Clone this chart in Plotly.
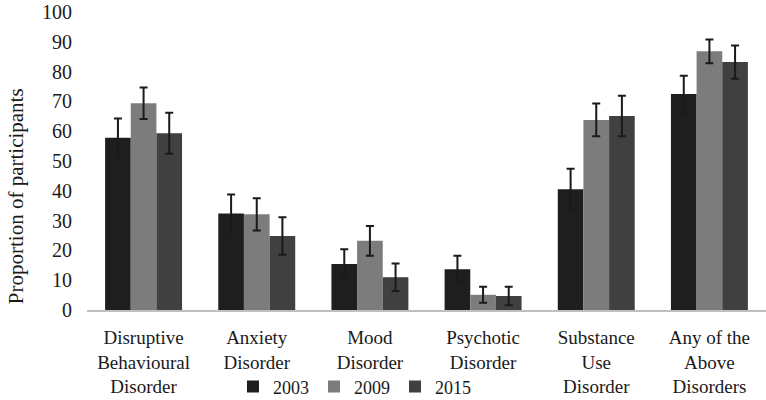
import plotly.graph_objects as go

categories = ["Disruptive<br>Behavioural<br>Disorder", "Anxiety<br>Disorder", "Mood<br>Disorder",
              "Psychotic<br>Disorder", "Substance<br>Use<br>Disorder", "Any of the<br>Above<br>Disorders"]
years = ["2003", "2009", "2015"]
values_2003 = [57.8, 32.4, 15.4, 13.7, 40.5, 72.5]
values_2009 = [69.4, 32.1, 23.2, 5.1, 63.8, 86.8]
values_2015 = [59.3, 24.8, 11.0, 4.7, 65.1, 83.2]
err_2003 = [6.5, 6.4, 5.0, 4.5, 6.9, 6.1]
err_2009 = [5.3, 5.4, 5.0, 2.7, 5.5, 4.0]
err_2015 = [6.9, 6.3, 4.6, 3.1, 6.8, 5.6]
colors = ["#1e1e1e", "#7c7c7c", "#404040"]

FONT = "'Liberation Serif', Tinos, 'Times New Roman', serif"

fig = go.Figure()
for name, vals, errs, col in zip(years, [values_2003, values_2009, values_2015],
                                 [err_2003, err_2009, err_2015], colors):
    fig.add_trace(go.Bar(
        x=categories, y=vals, name=name, marker=dict(color=col, line=dict(width=0)),
        error_y=dict(type="data", array=errs, visible=True, color="#1a1a1a", thickness=2, width=4),
    ))

fig.update_layout(
    width=766, height=400,
    margin=dict(l=87, r=0, t=12, b=90, autoexpand=False),
    paper_bgcolor="white", plot_bgcolor="white",
    font=dict(family=FONT, color="#1a1a1a", size=19),
    barmode="group", bargap=0.32, bargroupgap=0,
    showlegend=True,
    legend=dict(orientation="h", x=0.215, y=-0.258, xanchor="left", yanchor="middle",
                bgcolor="rgba(0,0,0,0)", font=dict(size=18, family=FONT),
                traceorder="normal", itemwidth=30),
    xaxis=dict(showline=True, linecolor="#bfbfbf", linewidth=2, ticks="", showgrid=False,
               tickfont=dict(size=19, family=FONT), ticklabelstandoff=9, automargin=False),
    yaxis=dict(range=[0, 100], dtick=10, showgrid=False, zeroline=False, showline=False,
               ticks="", tickfont=dict(size=20, family=FONT), ticklabelstandoff=14,
               automargin=False),
    annotations=[dict(text="Proportion of participants", xref="paper", yref="paper",
                      x=-0.1035, y=0.381, xanchor="center", yanchor="middle", textangle=-90,
                      showarrow=False, font=dict(size=21, family=FONT))],
)

fig.write_html("out.html", config={"displayModeBar": False},
               post_script="document.body.style.margin='0';")
